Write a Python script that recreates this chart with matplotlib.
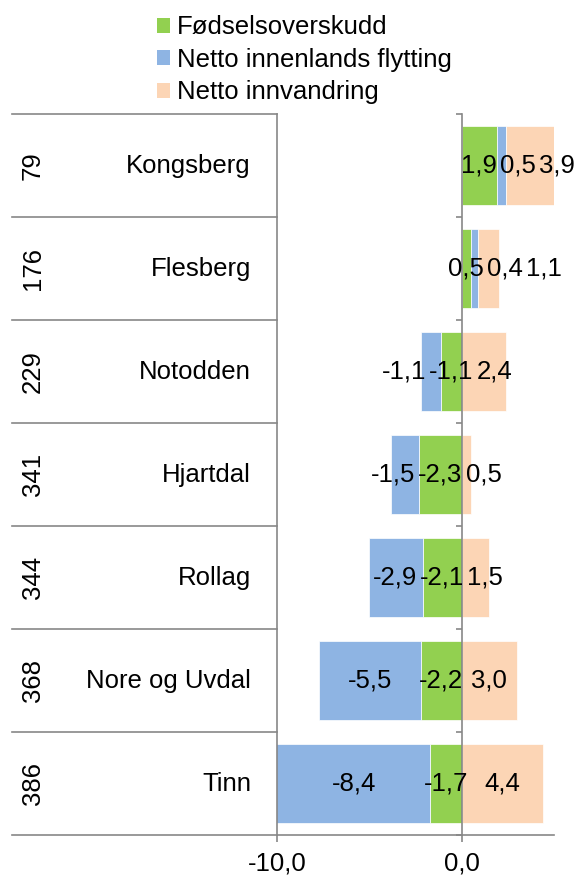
import matplotlib
matplotlib.use("Agg")
import matplotlib.pyplot as plt
import matplotlib.transforms as mtransforms
from matplotlib.patches import Patch

plt.rcParams["font.family"] = ["Liberation Sans", "DejaVu Sans"]

# data
ranks = ["79", "176", "229", "341", "344", "368", "386"]
kommuner = ["Kongsberg", "Flesberg", "Notodden", "Hjartdal", "Rollag",
            "Nore og Uvdal", "Tinn"]
fodsel = [1.9, 0.5, -1.1, -2.3, -2.1, -2.2, -1.7]
innenlands = [0.5, 0.4, -1.1, -1.5, -2.9, -5.5, -8.4]
innvandring = [3.9, 1.1, 2.4, 0.5, 1.5, 3.0, 4.4]

series = [
    ("Fødselsoverskudd", fodsel, "#92D050"),
    ("Netto innenlands flytting", innenlands, "#8EB4E3"),
    ("Netto innvandring", innvandring, "#FCD5B5"),
]

XMIN, XMAX = -10, 5
GREY = "#878787"
FS = 18.5

fig = plt.figure(figsize=(5.81, 8.86), dpi=100)
ax = fig.add_axes([277 / 581, 1 - 835 / 886, (554 - 277) / 581, (835 - 114) / 886])
ax.set_xlim(XMIN, XMAX)
ax.set_ylim(len(kommuner) - 0.5, -0.5)

ypos = list(range(len(kommuner)))
pos_base = [0.0] * len(kommuner)
neg_base = [0.0] * len(kommuner)
labels = [[] for _ in kommuner]  # (text, sign) per row, in series order

for name, vals, col in series:
    lefts = []
    for i, v in enumerate(vals):
        lefts.append(pos_base[i] if v >= 0 else neg_base[i])
    ax.barh(ypos, vals, left=lefts, height=0.77, color=col,
            edgecolor="white", linewidth=0.5, zorder=2)
    # labels centred on the visible part of each segment
    for i, v in enumerate(vals):
        a, b = sorted([lefts[i], lefts[i] + v])
        a, b = max(a, XMIN), min(b, XMAX)
        t = ax.text((a + b) / 2, i, f"{v:.1f}".replace(".", ","), ha="center",
                    va="center", fontsize=FS, zorder=4)
        labels[i].append((t, 1 if v >= 0 else -1))
        if v >= 0:
            pos_base[i] += v
        else:
            neg_base[i] += v

# push overlapping labels outwards, like the spreadsheet does
fig.canvas.draw()
r = fig.canvas.get_renderer()
px_per_unit = ax.transData.transform((1, 0))[0] - ax.transData.transform((0, 0))[0]
pad = 3 / px_per_unit
eps = 1e-6
for row in labels:
    placed = []
    for t, sgn in row:
        bb = t.get_window_extent(r)
        w = bb.width / px_per_unit
        c = t.get_position()[0]
        for _ in range(10):
            moved = False
            for lo, hi in placed:
                if c - w / 2 < hi + pad - eps and c + w / 2 > lo - pad + eps:
                    c = hi + pad + w / 2 if sgn > 0 else lo - pad - w / 2
                    moved = True
            if not moved:
                break
        t.set_x(c)
        placed.append((c - w / 2, c + w / 2))

# zero axis with tick marks on the row boundaries
for s in ["top", "right", "bottom"]:
    ax.spines[s].set_visible(False)
ax.spines["left"].set_position(("data", 0))
ax.spines["left"].set_color(GREY)
ax.spines["left"].set_linewidth(1.2)
ax.spines["left"].set_zorder(3)
ax.set_yticks([i - 0.5 for i in range(len(kommuner) + 1)])
ax.tick_params(axis="y", direction="out", length=4.5, color=GREY,
               width=1.2, labelleft=False)

ax.set_xticks([-10, 0])
ax.set_xticklabels(["-10,0", "0,0"], fontsize=FS)
ax.tick_params(axis="x", direction="out", length=5, color=GREY, width=1.2, pad=7)

# table on the left
tr = mtransforms.blended_transform_factory(fig.transFigure, ax.transData)
x0 = 12 / 581
x1 = 277 / 581
for i in range(len(kommuner) + 1):
    y = i - 0.5
    xr = x1 if i < len(kommuner) else 554 / 581
    ax.plot([x0, xr], [y, y], color=GREY, lw=1.2, transform=tr, clip_on=False,
            zorder=3)
ax.plot([x1, x1], [-0.5, len(kommuner) - 0.5], color=GREY, lw=1.2,
        transform=tr, clip_on=False, zorder=3)

for i, (rk, k) in enumerate(zip(ranks, kommuner)):
    ax.text(33 / 581, i, rk, rotation=90, ha="center", va="center",
            fontsize=FS, transform=tr)
    ax.text(251 / 581, i, k, ha="right", va="center", fontsize=FS, transform=tr)

handles = [Patch(facecolor=c, label=n) for n, _, c in series]
fig.legend(handles=handles, loc="upper left", bbox_to_anchor=(142 / 581, 1.0),
           frameon=False, fontsize=FS, handlelength=0.5, handleheight=0.5,
           handletextpad=0.25, labelspacing=0.33, borderaxespad=0.2)

fig.savefig("out.png", dpi=100)
